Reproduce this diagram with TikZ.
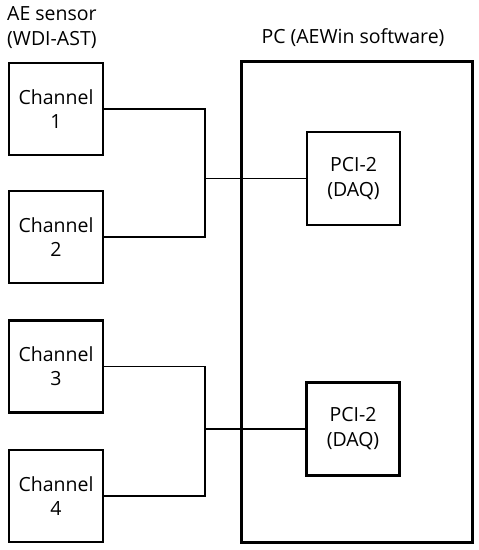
\documentclass[tikz,border=0pt]{standalone}
\usepackage{fontspec}
\setmainfont{Open Sans}
\begin{document}
\begin{tikzpicture}[x=1pt,y=-1pt,
  chbox/.style={draw,line width=2.8pt,minimum width=94pt,minimum height=92pt,inner sep=0pt,align=center,font=\fontsize{19.5}{24}\selectfont},
  pcibox/.style={draw,line width=2.8pt,minimum width=93pt,minimum height=93pt,inner sep=0pt,align=center,font=\fontsize{19.5}{25}\selectfont},
  pcbox/.style={draw,line width=2.8pt,inner sep=0pt},
  wire/.style={line width=1.4pt},
  lbl/.style={font=\fontsize{19.5}{25}\selectfont,inner sep=0pt,align=left}]
\useasboundingbox (0,0) rectangle (479,550);
\node[pcbox,minimum width=231pt,minimum height=481pt] (pc) at (357,302) {};
\node[chbox] (c1) at (56,109) {Channel\\1};
\node[chbox] (c2) at (56,237) {Channel\\2};
\node[chbox] (c3) at (56,366.5) {Channel\\3};
\node[chbox] (c4) at (56,496) {Channel\\4};
\node[pcibox] (p1) at (353.5,178.5) {PCI-2\\(DAQ)};
\node[pcibox] (p2) at (353,429) {PCI-2\\(DAQ)};
\node[lbl,anchor=west] (ae) at (7,28) {AE sensor\\(WDI-AST)};
\node[lbl] (pct) at (353,38) {PC (AEWin software)};
\coordinate (j1) at (205,178.5);
\coordinate (j2) at (205,429);
\draw[wire] (c1.east) -| (j1) |- (c2.east);
\draw[wire] (j1) -- (p1.west);
\draw[wire] (c3.east) -| (j2) |- (c4.east);
\draw[wire] (j2) -- (p2.west);
\end{tikzpicture}
\end{document}
